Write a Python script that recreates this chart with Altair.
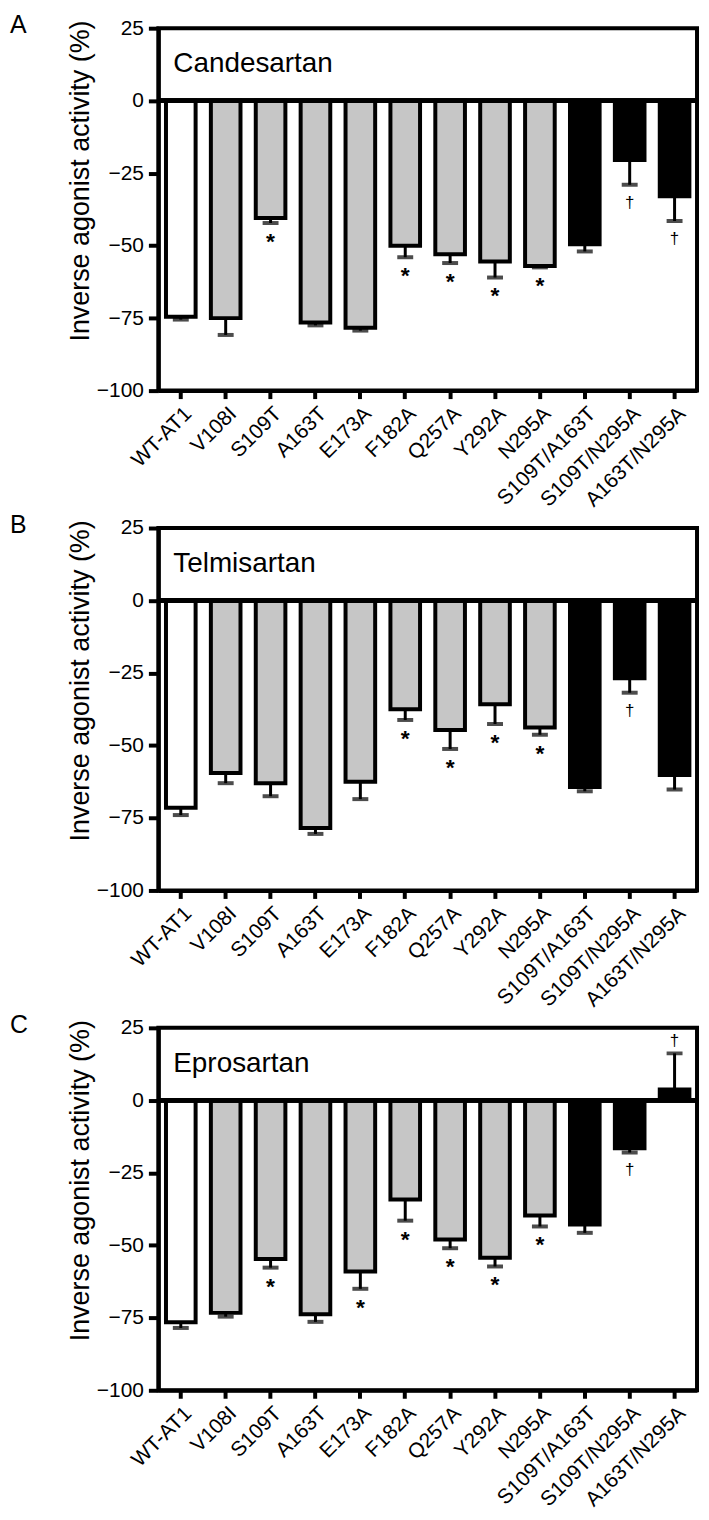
import altair as alt
import pandas as pd

FONT = "Liberation Sans"

categories = ["WT-AT1", "V108I", "S109T", "A163T", "E173A", "F182A", "Q257A",
              "Y292A", "N295A", "S109T/A163T", "S109T/N295A", "A163T/N295A"]
groups = ["wt"] + ["single"] * 8 + ["double"] * 3
group_names = ["wt", "single", "double"]
group_colors = ["#ffffff", "#c6c6c6", "#000000"]

letters = ["A", "B", "C"]
drugs = ["Candesartan", "Telmisartan", "Eprosartan"]

cand_vals = [-74.5, -75.0, -40.5, -76.5, -78.3, -50.0, -53.0, -55.5, -57.0, -49.5, -20.5, -33.0]
cand_errs = [1.0, 5.8, 1.7, 1.0, 1.0, 4.0, 3.0, 5.5, 0.5, 2.5, 8.5, 8.5]
cand_marks = ["", "", "*", "", "", "*", "*", "*", "*", "", "†", "†"]

tel_vals = [-71.5, -59.5, -63.0, -78.5, -62.5, -37.5, -44.7, -35.8, -43.8, -64.3, -26.8, -60.2]
tel_errs = [2.5, 3.5, 4.5, 2.0, 6.0, 3.7, 6.5, 6.8, 2.5, 1.5, 5.0, 5.0]
tel_marks = ["", "", "", "", "", "*", "*", "*", "*", "", "†", ""]

epro_vals = [-76.5, -73.3, -54.7, -73.8, -59.0, -34.2, -48.0, -54.3, -39.7, -42.8, -16.5, 3.7]
epro_errs = [2.0, 1.3, 3.0, 2.6, 6.0, 7.3, 3.0, 3.0, 3.8, 2.9, 1.5, 12.5]
epro_marks = ["", "", "*", "", "*", "*", "*", "*", "*", "", "†", "†"]

y_ticks = [25, 0, -25, -50, -75, -100]
y_title = "Inverse agonist activity (%)"


def panel(letter, drug, vals, errs, marks):
    df = pd.DataFrame({"cat": categories, "grp": groups, "val": vals,
                       "err": errs, "mark": marks})
    df["end"] = [v - e if v < 0 else v + e for v, e in zip(vals, errs)]

    xaxis = alt.Axis(title=None, labelAngle=-45, labelFontSize=21, labelFont=FONT,
                     labelColor="black", labelPadding=4, tickSize=8, labelLimit=400)
    xs = alt.Scale(paddingInner=0.34, paddingOuter=0.17)
    x = alt.X("cat:N", sort=categories, scale=xs, axis=xaxis)
    yaxis = alt.Axis(title=y_title, values=y_ticks, labelFontSize=21, labelFont=FONT,
                     labelColor="black", tickSize=10, labelPadding=5,
                     titleFontSize=27, titleFont=FONT, titleFontWeight="normal",
                     titleColor="black", titleAngle=-90, titleX=-78, titleY=153,
                     titleAlign="center", titleBaseline="middle")
    ys = alt.Scale(domain=[-100, 25], nice=False)

    base = alt.Chart(df)
    bars = base.mark_bar(stroke="black", strokeWidth=4).encode(
        x=x, y=alt.Y("val:Q", scale=ys, axis=yaxis),
        color=alt.Color("grp:N", scale=alt.Scale(domain=group_names, range=group_colors),
                        legend=None))
    rules = base.mark_rule(strokeWidth=3, color="black").encode(
        x=x, y=alt.Y("val:Q", scale=ys, axis=yaxis), y2="end:Q")
    caps = base.mark_tick(size=16, thickness=4, color="black").encode(
        x=x, y=alt.Y("end:Q", scale=ys, axis=yaxis))
    zero = base.mark_rule(strokeWidth=4, color="black").encode(y=alt.datum(0))
    stars = base.transform_filter(alt.datum.mark == "*").mark_text(
        dy=19, fontSize=23, fontWeight="bold", font=FONT, baseline="middle", color="black"
    ).encode(x=x, y=alt.Y("end:Q", scale=ys, axis=yaxis), text="mark:N")
    dag_neg = base.transform_filter((alt.datum.mark == "†") & (alt.datum.val < 0)).mark_text(
        dy=18, fontSize=17, font=FONT, baseline="middle", color="black"
    ).encode(x=x, y=alt.Y("end:Q", scale=ys, axis=yaxis), text="mark:N")
    dag_pos = base.transform_filter((alt.datum.mark == "†") & (alt.datum.val > 0)).mark_text(
        dy=-12, fontSize=17, font=FONT, baseline="middle", color="black"
    ).encode(x=x, y=alt.Y("end:Q", scale=ys, axis=yaxis), text="mark:N")

    letter_t = alt.Chart(pd.DataFrame({"t": [letter]})).mark_text(
        align="left", baseline="top", fontSize=25, font=FONT, color="black"
    ).encode(x=alt.value(-149), y=alt.value(-15), text="t:N")
    drug_t = alt.Chart(pd.DataFrame({"t": [drug]})).mark_text(
        align="left", baseline="alphabetic", fontSize=28, font=FONT, color="black"
    ).encode(x=alt.value(15), y=alt.value(44), text="t:N")

    return alt.layer(bars, rules, caps, zero, stars, dag_neg, dag_pos, letter_t, drug_t
                     ).properties(width=541, height=364)


pA = panel(letters[0], drugs[0], cand_vals, cand_errs, cand_marks)
pB = panel(letters[1], drugs[1], tel_vals, tel_errs, tel_marks)
pC = panel(letters[2], drugs[2], epro_vals, epro_errs, epro_marks)

chart = alt.vconcat(pA, pB, pC, spacing=138, bounds="flush",
                    padding={"left": 0, "top": 0, "right": 0, "bottom": 4}
                    ).configure_view(stroke="black", strokeWidth=4
                    ).configure_axis(domainColor="black", domainWidth=4, tickColor="black",
                                     tickWidth=4, grid=False)

chart.save("out.html", embed_options={"renderer": "svg", "actions": False})
